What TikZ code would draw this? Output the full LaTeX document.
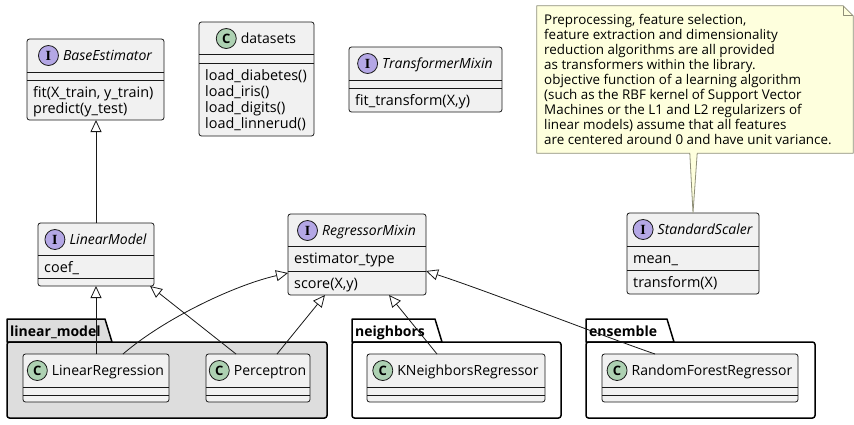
\documentclass[tikz,border=0pt]{standalone}
\usepackage{fontspec}
\setmainfont{Open Sans}
\newfontfamily\markfont{Liberation Serif}
\usetikzlibrary{arrows.meta,calc}

\definecolor{umlline}{HTML}{181818}
\definecolor{umlfill}{HTML}{F1F1F1}
\definecolor{ifacefill}{HTML}{B4A7E5}
\definecolor{classfill}{HTML}{ADD1B2}
\definecolor{pkgfill}{HTML}{DDDDDD}
\definecolor{notefill}{HTML}{FEFFDD}
\definecolor{notedraw}{HTML}{8F8F78}

\tikzset{
  classbox/.style={draw=umlline, fill=umlfill, line width=.8pt, rounded corners=2.5pt, inner sep=0pt, outer sep=0pt},
  sepline/.style={draw=umlline, line width=.8pt},
  ifacemark/.style={circle, draw=umlline, line width=.8pt, fill=ifacefill, minimum size=20pt, inner sep=0pt,
    font=\markfont\fontsize{14}{14}\selectfont\bfseries},
  classmark/.style={ifacemark, fill=classfill, font=\fontsize{13}{13}\selectfont\bfseries},
  umltitle/.style={inner sep=0pt, text height=11pt, text depth=1pt, font=\fontsize{14}{16}\selectfont},
  member/.style={inner sep=0pt, anchor=base west, xshift=6pt, font=\fontsize{14.4}{16}\selectfont},
  pkgbody/.style={draw=black, line width=1.5pt, rounded corners=2.5pt, inner sep=0pt, outer sep=0pt},
  pkgtab/.style={draw=black, line width=1.5pt, line join=round},
  pkgname/.style={inner sep=0pt, anchor=base west, font=\fontsize{14}{16}\selectfont\bfseries},
  inherit/.style={draw=umlline, line width=.8pt, -{Triangle[length=12pt, width=11pt, fill=white, line width=.8pt]}},
  notestyle/.style={draw=notedraw, fill=notefill, line width=.8pt, line join=round},
  notetext/.style={inner sep=0pt, anchor=base west, font=\fontsize{13.4}{15}\selectfont},
}

% box: name, left, top, right, bottom
\newcommand{\umlbox}[5]{\node[classbox, minimum width={#4-#2}, minimum height={#5-#3}] (#1) at ({(#2+#4)/2},{(#3+#5)/2}) {};}
% separator line of a box
\newcommand{\umlsep}[2]{\draw[sepline] (#1.west |- 0,#2) -- (#1.east |- 0,#2);}
% header: name, mark style, letter, title
\newcommand{\umlhead}[4]{%
  \node[umltitle] (#1-t) at ([xshift=12pt,yshift=-16.5pt]#1.north) {#4};
  \node[#2, anchor=east] (#1-c) at ([xshift=-4pt]#1-t.west) {#3};}

\begin{document}
\begin{tikzpicture}[x=1pt,y=-1pt]
  \fill[white] (0,0) rectangle (854,424);
  \useasboundingbox (0,0) rectangle (854,424);

  % packages
  \filldraw[pkgtab, fill=pkgfill] (7,342) -- (7,319) -- (105,319) -- (112,342) -- cycle;
  \node[pkgbody, fill=pkgfill, minimum width=320, minimum height=76] (lm) at (167,380) {};
  \node[pkgname] (lm-name) at (10,336) {linear\_model};

  \filldraw[pkgtab, fill=white] (352,342) -- (352,319) -- (435,319) -- (442,342) -- cycle;
  \node[pkgbody, fill=white, minimum width=209, minimum height=76] (nb) at (456.5,380) {};
  \node[pkgname] (nb-name) at (355,336) {neighbors};

  \filldraw[pkgtab, fill=white] (586,342) -- (586,319) -- (667,319) -- (674,342) -- cycle;
  \node[pkgbody, fill=white, minimum width=229, minimum height=76] (en) at (700.5,380) {};
  \node[pkgname] (en-name) at (589,336) {ensemble};

  % BaseEstimator
  \umlbox{base}{27}{39}{164}{120}
  \umlsep{base}{72} \umlsep{base}{80}
  \umlhead{base}{ifacemark}{I}{\itshape BaseEstimator}
  \node[member] (base-m1) at (base.west |- 0,97) {fit(X\_train, y\_train)};
  \node[member] (base-m2) at (base.west |- 0,113.3) {predict(y\_test)};

  % datasets
  \umlbox{data}{199}{22}{314}{136}
  \umlsep{data}{54} \umlsep{data}{63}
  \umlhead{data}{classmark}{C}{datasets}
  \node[member] (data-m1) at (data.west |- 0,80) {load\_diabetes()};
  \node[member] (data-m2) at (data.west |- 0,96.3) {load\_iris()};
  \node[member] (data-m3) at (data.west |- 0,112.6) {load\_digits()};
  \node[member] (data-m4) at (data.west |- 0,128.9) {load\_linnerud()};

  % TransformerMixin
  \umlbox{trans}{349}{47}{502}{112}
  \umlsep{trans}{80} \umlsep{trans}{88}
  \umlhead{trans}{ifacemark}{I}{\itshape TransformerMixin}
  \node[member] (trans-m1) at (trans.west |- 0,105) {fit\_transform(X,y)};

  % StandardScaler
  \umlbox{scaler}{627}{213}{759}{294}
  \umlsep{scaler}{246} \umlsep{scaler}{270}
  \umlhead{scaler}{ifacemark}{I}{\itshape StandardScaler}
  \node[member] (scaler-f1) at (scaler.west |- 0,263) {mean\_};
  \node[member] (scaler-m1) at (scaler.west |- 0,287) {transform(X)};

  % LinearModel
  \umlbox{linmodel}{38}{223}{154}{286}
  \umlsep{linmodel}{255} \umlsep{linmodel}{278}
  \umlhead{linmodel}{ifacemark}{I}{\itshape LinearModel}
  \node[member] (linmodel-f1) at (linmodel.west |- 0,272) {coef\_};

  % RegressorMixin
  \umlbox{regmix}{288}{214}{426}{295}
  \umlsep{regmix}{246} \umlsep{regmix}{271}
  \umlhead{regmix}{ifacemark}{I}{\itshape RegressorMixin}
  \node[member] (regmix-f1) at (regmix.west |- 0,263) {estimator\_type};
  \node[member] (regmix-m1) at (regmix.west |- 0,288) {score(X,y)};

  % classes inside the packages
  \umlbox{lr}{23}{354}{169}{402}
  \umlsep{lr}{387} \umlsep{lr}{395}
  \umlhead{lr}{classmark}{C}{LinearRegression}

  \umlbox{perc}{206}{354}{310}{402}
  \umlsep{perc}{387} \umlsep{perc}{395}
  \umlhead{perc}{classmark}{C}{Perceptron}

  \umlbox{knr}{367}{354}{545}{402}
  \umlsep{knr}{387} \umlsep{knr}{395}
  \umlhead{knr}{classmark}{C}{KNeighborsRegressor}

  \umlbox{rfr}{602}{354}{798}{402}
  \umlsep{rfr}{387} \umlsep{rfr}{395}
  \umlhead{rfr}{classmark}{C}{RandomForestRegressor}

  % note
  \node[inner sep=0pt, minimum width=316, minimum height=147] (note) at (695,79.5) {};
  \filldraw[notestyle] (note.south west) -- (note.north west) -- ([xshift=-10pt]note.north east)
    -- ([yshift=-10pt]note.north east) -- (note.south east) -- ([xshift=-156pt]note.south east)
    -- (scaler.north) -- ([xshift=153pt]note.south west) -- cycle;
  \draw[notestyle, fill=none] ([xshift=-10pt]note.north east) -- ++(0,10) -- ([yshift=-10pt]note.north east);
  \foreach \ln [count=\i] in {{Preprocessing, feature selection,},
      {feature extraction and dimensionality},
      {reduction algorithms are all provided},
      {as transformers within the library.},
      {objective function of a learning algorithm},
      {(such as the RBF kernel of Support Vector},
      {Machines or the L1 and L2 regularizers of},
      {linear models) assume that all features},
      {are centered around 0 and have unit variance.}}
    \node[notetext] (note-\i) at (544,{24+15.1*(\i-1)}) {\ln};

  % inheritance
  \draw[inherit] (linmodel.north) -- (linmodel.north |- base.south);
  \draw[inherit] (lr.north) -- (lr.north |- linmodel.south);
  \draw[inherit] ([xshift=30pt]perc.north west) -- ([xshift=-4pt]linmodel.south east);
  \draw[inherit] ([xshift=100pt]lr.north west) .. controls (165,318) and (235,285) .. ([yshift=-59pt]regmix.north west);
  \draw[inherit] ([xshift=71pt]perc.north west) -- ([xshift=37pt]regmix.south west);
  \draw[inherit] ([xshift=70pt]knr.north west) -- ([xshift=101pt]regmix.south west);
  \draw[inherit] ([xshift=53pt]rfr.north west) .. controls (600,335) and (490,292) .. ([yshift=-57pt]regmix.north east);
\end{tikzpicture}
\end{document}
